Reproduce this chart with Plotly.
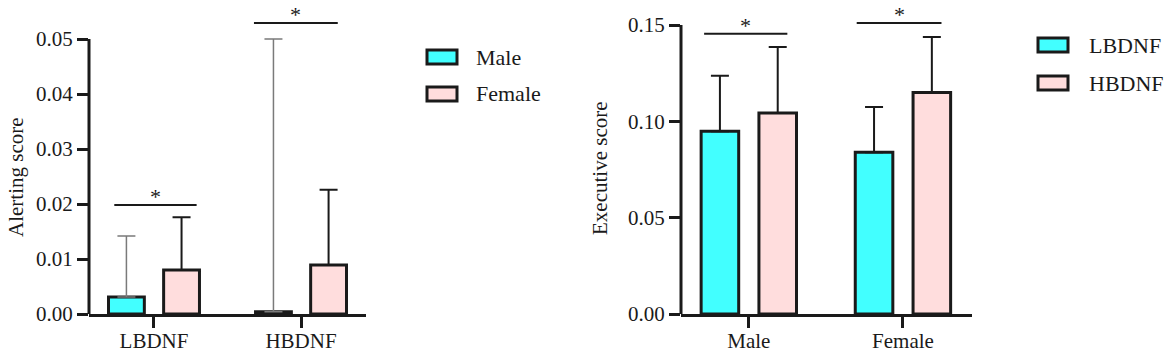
import plotly.graph_objects as go

# ---------------- data ----------------
# Left panel: Alerting score by BDNF group, split by sex
alert_groups = ["LBDNF", "HBDNF"]
alert_male = [0.0031, 0.0004]
alert_male_sd = [0.0111, 0.0496]
alert_female = [0.0080, 0.0089]
alert_female_sd = [0.0096, 0.0137]
alert_ticks = [0.0, 0.01, 0.02, 0.03, 0.04, 0.05]
# significance brackets (offset from category centre, height)
alert_sig_x0 = [-0.27, -0.32]
alert_sig_x1 = [0.29, 0.25]
alert_sig_y = [0.0198, 0.0529]

# Right panel: Executive score by sex, split by BDNF group
exec_groups = ["Male", "Female"]
exec_lbdnf = [0.0948, 0.0840]
exec_lbdnf_sd = [0.0288, 0.0235]
exec_hbdnf = [0.1043, 0.1150]
exec_hbdnf_sd = [0.0343, 0.0288]
exec_ticks = [0.0, 0.05, 0.10, 0.15]
exec_sig_x0 = [-0.29, -0.30]
exec_sig_x1 = [0.25, 0.25]
exec_sig_y = [0.1454, 0.1511]

legend_left = ["Male", "Female"]
legend_right = ["LBDNF", "HBDNF"]

# ---------------- style ----------------
W, H = 1170, 360
CYAN = "#42FFFF"
PINK = "#FFDDDD"
FONT = "Liberation Serif"
INK = "#1a1a1a"


def px(x):
    return x / W


def py(y):
    return 1 - y / H


fig = go.Figure()


def bar(x, y, sd, color, name, xa, ya, ecolor, ethick):
    return go.Bar(
        x=x, y=y, name=name, xaxis=xa, yaxis=ya,
        marker=dict(color=color, line=dict(color=INK, width=3)),
        error_y=dict(type="data", array=sd, arrayminus=[0] * len(sd),
                     symmetric=False, color=ecolor, thickness=ethick, width=9),
        showlegend=False, cliponaxis=False,
    )


fig.add_trace(bar(alert_groups, alert_male, alert_male_sd, CYAN, "Male", "x", "y", "#7a7a7a", 1.5))
fig.add_trace(bar(alert_groups, alert_female, alert_female_sd, PINK, "Female", "x", "y", INK, 2))
fig.add_trace(bar(exec_groups, exec_lbdnf, exec_lbdnf_sd, CYAN, "LBDNF", "x2", "y2", INK, 2))
fig.add_trace(bar(exec_groups, exec_hbdnf, exec_hbdnf_sd, PINK, "HBDNF", "x2", "y2", INK, 2))

ydom = [py(314), py(3)]
left_top = alert_ticks[-1] * (314 - 3) / (314 - 39)
right_top = exec_ticks[-1] * (314 - 3) / (314 - 25)

common_x = dict(showline=True, linecolor=INK, linewidth=3, ticks="outside",
                ticklen=11, tickwidth=3, tickcolor=INK, showgrid=False,
                zeroline=False, tickfont=dict(family=FONT, size=21, color=INK),
                type="category", automargin=False, ticklabelstandoff=-5)
common_y = dict(showline=False, ticks="outside", ticklen=11, tickwidth=3,
                tickcolor=INK, showgrid=False, zeroline=False,
                tickfont=dict(family=FONT, size=21, color=INK), tickformat=".2f",
                automargin=False)

fig.update_layout(
    width=W, height=H, autosize=False,
    margin=dict(l=0, r=0, t=0, b=0, pad=0),
    paper_bgcolor="white", plot_bgcolor="white",
    barmode="group", bargap=0.25, bargroupgap=0.35,
    font=dict(family=FONT, color=INK),
    xaxis=dict(common_x, domain=[px(89), px(366)], range=[-0.442, 1.442], anchor="y"),
    yaxis=dict(common_y, domain=ydom, range=[0, left_top], tickvals=alert_ticks, anchor="x"),
    xaxis2=dict(common_x, domain=[px(681), px(972)], range=[-0.44, 1.448], anchor="y2"),
    yaxis2=dict(common_y, domain=ydom, range=[0, right_top], tickvals=exec_ticks, anchor="x2"),
)

shapes = []
annotations = []

# y axis lines (only up to last tick)
shapes.append(dict(type="line", xref="x domain", yref="y", x0=0, x1=0, y0=0,
                   y1=alert_ticks[-1], line=dict(color=INK, width=3)))
shapes.append(dict(type="line", xref="x2 domain", yref="y2", x0=0, x1=0, y0=0,
                   y1=exec_ticks[-1], line=dict(color=INK, width=3)))

# significance brackets
for xr, yr, x0s, x1s, ys in [("x", "y", alert_sig_x0, alert_sig_x1, alert_sig_y),
                             ("x2", "y2", exec_sig_x0, exec_sig_x1, exec_sig_y)]:
    for i, (a, b, yv) in enumerate(zip(x0s, x1s, ys)):
        shapes.append(dict(type="line", xref=xr, yref=yr, x0=i + a, x1=i + b, y0=yv, y1=yv,
                           line=dict(color=INK, width=2)))
        annotations.append(dict(xref=xr, yref=yr, x=i + (a + b) / 2, y=yv, text="*",
                                showarrow=False, yanchor="bottom", yshift=-6,
                                font=dict(family=FONT, size=22, color=INK)))

# axis titles
annotations.append(dict(xref="paper", yref="paper", x=px(16), y=py(177), text="Alerting score",
                        textangle=-90, showarrow=False, xanchor="center", yanchor="middle",
                        font=dict(family=FONT, size=21, color=INK)))
annotations.append(dict(xref="paper", yref="paper", x=px(600), y=py(168), text="Executive score",
                        textangle=-90, showarrow=False, xanchor="center", yanchor="middle",
                        font=dict(family=FONT, size=21, color=INK)))

# legends (drawn manually to match rectangular swatches)
for names, bx, ty, tx in [(legend_left, 427, [50, 87], 474), (legend_right, 1038, [38, 76], 1087)]:
    for name, y0, col in zip(names, ty, [CYAN, PINK]):
        shapes.append(dict(type="rect", xref="paper", yref="paper", x0=px(bx), x1=px(bx + 30),
                           y0=py(y0), y1=py(y0 + 14), fillcolor=col,
                           line=dict(color=INK, width=3)))
        annotations.append(dict(xref="paper", yref="paper", x=px(tx), y=py(y0 + 7), text=name,
                                showarrow=False, xanchor="left", yanchor="middle",
                                font=dict(family=FONT, size=22, color=INK)))

fig.update_layout(shapes=shapes, annotations=annotations)
fig.write_html("out.html", config={"displayModeBar": False},
               post_script="document.body.style.margin='0';")
